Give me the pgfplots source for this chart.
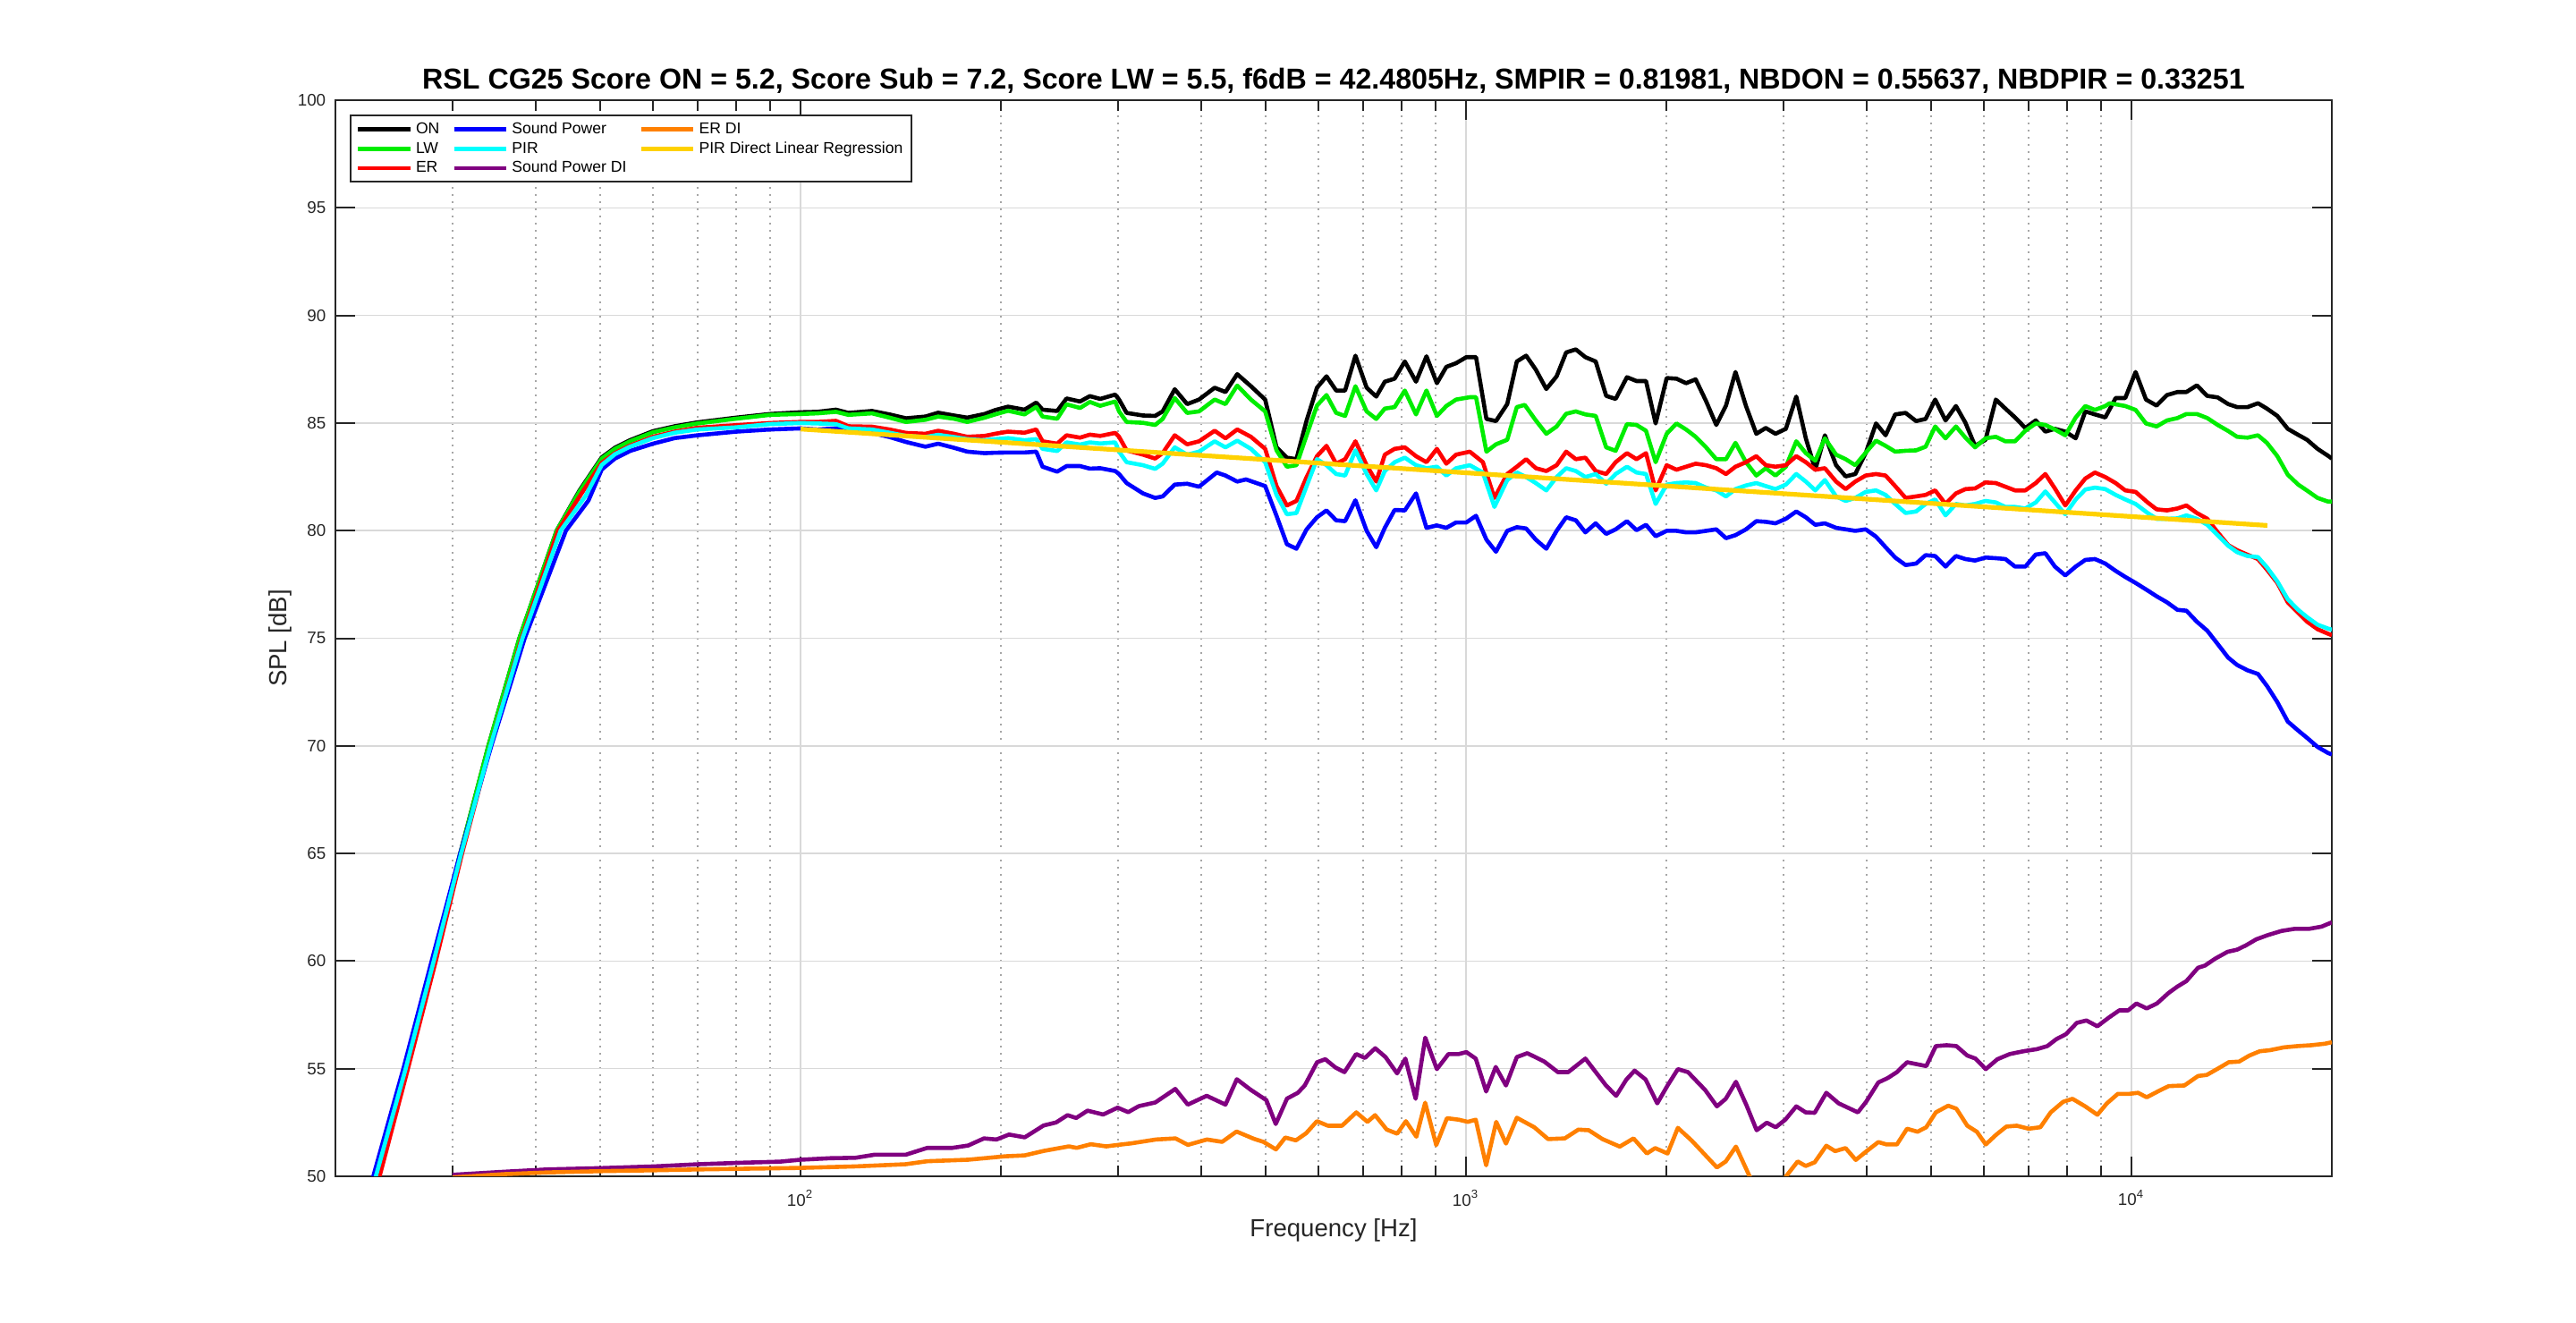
\documentclass[border=0pt]{standalone}
\usepackage{fontspec}
\setmainfont{Liberation Sans}
\usepackage{pgfplots}
\pgfplotsset{compat=1.18}

\definecolor{cON}{rgb}{0,0,0}
\definecolor{cLW}{rgb}{0,0.93,0}
\definecolor{cER}{rgb}{1,0,0}
\definecolor{cSP}{rgb}{0,0,1}
\definecolor{cPIR}{rgb}{0,1,1}
\definecolor{cSPDI}{rgb}{0.5,0,0.5}
\definecolor{cERDI}{rgb}{1,0.5,0}
\definecolor{cREG}{rgb}{1,0.82,0}
\definecolor{axgray}{rgb}{0.15,0.15,0.15}

\begin{document}
\begin{tikzpicture}
\path[use as bounding box] (-93.75pt,-40.75pt) rectangle (626.25pt,328.75pt);
\begin{axis}[
  at={(0,0)}, anchor=south west,
  scale only axis, width=558pt, height=300.75pt,
  xmode=log, xmin=20, xmax=20000, ymin=50, ymax=100,
  xtick={100,1000,10000},
  xticklabels={10\textsuperscript{2},10\textsuperscript{3},10\textsuperscript{4}},
  minor xtick={20,30,40,50,60,70,80,90,200,300,400,500,600,700,800,900,2000,3000,4000,5000,6000,7000,8000,9000},
  ytick={50,55,...,100},
  /pgf/number format/assume math mode=true,
  xtick pos=both, ytick pos=both,
  tick align=inside,
  major tick length=5.5pt, minor tick length=3pt,
  tick style={color=axgray, line width=0.5pt},
  axis line style={draw=axgray, line width=0.6pt},
  xmajorgrids, ymajorgrids, xminorgrids,
  major grid style={color=black!15, line width=0.4pt},
  minor grid style={color=black!35, line width=0.4pt, dash pattern=on 0.5pt off 1.5pt},
  ticklabel style={font=\fontsize{4.7}{5}\selectfont, color=axgray},
  yticklabel style={inner sep=0pt, xshift=-2.5pt},
  xticklabel style={inner sep=0pt, anchor=north, yshift=-3.75pt},
  every axis title shift=0pt,
  title={RSL CG25 Score ON = 5.2, Score Sub = 7.2, Score LW = 5.5, f6dB = 42.4805Hz, SMPIR = 0.81981, NBDON = 0.55637, NBDPIR = 0.33251},
  title style={at={(axis description cs:0.5,1.0108)}, anchor=base, yshift=0pt, inner sep=0pt, font=\fontsize{8.05}{9}\selectfont\bfseries},
  xlabel={Frequency [Hz]},
  xlabel style={at={(axis description cs:0.5,-0.0565)}, anchor=base, inner sep=0pt, font=\fontsize{6.9}{8}\selectfont, color=axgray},
  ylabel={SPL [dB]},
  ylabel style={at={(axis description cs:-0.0242,0.5)}, anchor=base, inner sep=0pt, font=\fontsize{6.9}{8}\selectfont, color=axgray},
  legend columns=3,
  legend cell align=left,
  legend image code/.code={\draw[#1] (0pt,0pt) -- (14.6pt,0pt);},
  legend style={at={(axis description cs:0,1)}, anchor=north west, xshift=4pt, yshift=-4pt,
    draw=axgray, line width=0.5pt, fill=white,
    font=\fontsize{4.4}{5}\selectfont,
    inner xsep=1.5pt, inner ysep=1.2pt, row sep=0pt, column sep=0pt,
    nodes={inner xsep=1pt, inner ysep=0.6pt, text height=3.3pt, text depth=0.9pt},
    /tikz/every even column/.append style={column sep=2.5pt}},
  every axis plot/.append style={line width=1.15pt, line join=round},
]
\addlegendimage{cON, line width=1.15pt}
\addlegendimage{cSP, line width=1.15pt}
\addlegendimage{cERDI, line width=1.15pt}
\addlegendimage{cLW, line width=1.15pt}
\addlegendimage{cPIR, line width=1.15pt}
\addlegendimage{cREG, line width=1.15pt}
\addlegendimage{cER, line width=1.15pt}
\addlegendimage{cSPDI, line width=1.15pt}
\legend{ON, Sound Power, ER DI, LW, PIR, PIR Direct Linear Regression, ER, Sound Power DI}

% ON
\addplot[cON, forget plot] coordinates {
(21.3,46)(23.1,50)(25.5,55)(28.1,60)(30.8,65)(33.96,70)(37.8,75)(43.0,80)(46.5,81.85)(50.25,83.4)(52.6,83.85)(55.4,84.2)(60,84.62)(64.7,84.85)(70,85.03)(80,85.25)(90,85.42)(100,85.5)(106,85.52)(113,85.62)(118,85.47)(128,85.56)(136,85.4)(144,85.22)(154,85.3)(161,85.48)(170,85.35)(178,85.25)(189,85.42)(196,85.6)(205,85.76)(217,85.62)(226,85.95)(231,85.62)(243,85.56)(251,86.14)(263,86.0)(272,86.25)(282,86.12)(297,86.32)(301,86.09)(309,85.47)(327,85.35)(341,85.33)(350,85.54)(365,86.57)(381,85.88)(397,86.09)(419,86.64)(435,86.44)(453,87.27)(475,86.71)(499,86.09)(519,83.87)(538,83.39)(556,83.32)(576,85.12)(597,86.64)(617,87.17)(638,86.51)(658,86.51)(682,88.13)(709,86.64)(733,86.23)(755,86.92)(781,87.06)(809,87.86)(841,86.92)(872,88.1)(904,86.85)(934,87.61)(966,87.78)(1001,88.06)(1035,88.06)(1073,85.19)(1109,85.09)(1153,85.88)(1192,87.86)(1231,88.13)(1273,87.48)(1320,86.58)(1368,87.17)(1414,88.28)(1462,88.42)(1511,88.06)(1566,87.86)(1624,86.26)(1678,86.12)(1745,87.13)(1804,86.95)(1864,86.95)(1927,84.98)(2002,87.09)(2071,87.06)(2141,86.85)(2213,87.03)(2294,86.02)(2377,84.91)(2458,85.81)(2540,87.37)(2634,85.79)(2730,84.5)(2821,84.77)(2917,84.5)(3024,84.73)(3135,86.23)(3240,84.29)(3348,82.83)(3461,84.43)(3598,83.04)(3719,82.52)(3845,82.63)(3986,83.6)(4131,84.98)(4270,84.43)(4414,85.4)(4576,85.47)(4745,85.09)(4904,85.19)(5069,86.09)(5254,85.12)(5447,85.79)(5629,85.01)(5819,83.94)(6033,84.22)(6253,86.09)(6464,85.67)(6682,85.26)(6925,84.77)(7179,85.12)(7422,84.6)(7672,84.73)(7952,84.6)(8244,84.29)(8522,85.54)(8810,85.4)(9131,85.26)(9465,86.16)(9784,86.16)(10141,87.37)(10513,86.09)(10905,85.81)(11305,86.3)(11722,86.44)(12090,86.44)(12535,86.75)(12996,86.26)(13474,86.19)(13970,85.88)(14408,85.74)(14939,85.74)(15488,85.92)(15974,85.67)(16562,85.33)(17170,84.73)(17802,84.45)(18359,84.22)(19035,83.8)(19735,83.48)(20000,83.35)
};
% LW
\addplot[cLW, forget plot] coordinates {
(21.3,46)(23.1,50)(25.5,55)(28.1,60)(30.8,65)(33.96,70)(37.8,75)(43.0,80)(46.5,81.8)(50.25,83.35)(52.6,83.8)(55.4,84.15)(60,84.57)(64.7,84.8)(70,84.98)(80,85.2)(90,85.38)(100,85.42)(106,85.45)(113,85.52)(118,85.38)(128,85.45)(136,85.25)(144,85.05)(154,85.15)(161,85.3)(170,85.2)(178,85.05)(189,85.25)(196,85.4)(205,85.57)(217,85.4)(226,85.75)(231,85.3)(243,85.2)(251,85.87)(263,85.7)(272,85.98)(282,85.8)(297,86.0)(301,85.54)(309,85.05)(327,85.01)(341,84.91)(350,85.19)(365,86.16)(381,85.47)(397,85.54)(419,86.09)(435,85.88)(453,86.74)(475,86.09)(499,85.54)(519,83.73)(538,82.97)(556,83.04)(576,84.43)(597,85.81)(617,86.3)(638,85.47)(658,85.33)(682,86.71)(709,85.54)(733,85.19)(755,85.67)(781,85.74)(809,86.51)(841,85.4)(872,86.51)(904,85.33)(934,85.79)(966,86.09)(1013,86.2)(1035,86.2)(1073,83.67)(1109,84.01)(1153,84.22)(1192,85.74)(1225,85.84)(1273,85.12)(1320,84.5)(1368,84.84)(1414,85.43)(1462,85.54)(1511,85.4)(1566,85.33)(1624,83.87)(1678,83.71)(1745,84.95)(1804,84.91)(1864,84.64)(1927,83.18)(2002,84.5)(2071,84.98)(2141,84.7)(2213,84.36)(2294,83.87)(2377,83.32)(2458,83.32)(2540,84.08)(2634,83.18)(2730,82.56)(2821,82.9)(2917,82.56)(3024,82.97)(3135,84.15)(3240,83.6)(3348,83.25)(3461,84.29)(3598,83.53)(3719,83.32)(3845,83.04)(3986,83.62)(4131,84.18)(4270,83.94)(4414,83.67)(4576,83.71)(4745,83.73)(4904,83.9)(5069,84.84)(5254,84.29)(5447,84.84)(5629,84.32)(5819,83.87)(6033,84.29)(6253,84.36)(6464,84.15)(6682,84.15)(6925,84.64)(7179,84.98)(7422,84.91)(7672,84.7)(7952,84.43)(8244,85.26)(8522,85.79)(8810,85.61)(9131,85.79)(9270,85.92)(9784,85.79)(10141,85.61)(10513,84.98)(10905,84.84)(11305,85.12)(11722,85.23)(12090,85.42)(12535,85.42)(12996,85.23)(13474,84.91)(13970,84.63)(14408,84.36)(14939,84.32)(15488,84.43)(15974,84.08)(16562,83.46)(17170,82.6)(17802,82.14)(18359,81.86)(19035,81.52)(19735,81.35)(20000,81.35)
};
% ER
\addplot[cER, forget plot] coordinates {
(21.4,46)(23.3,50)(25.7,55)(28.3,60)(31.0,65)(34.2,70)(38.1,75)(43.2,80)(46.8,81.7)(50.25,83.15)(52.6,83.6)(55.4,83.95)(60,84.36)(64.7,84.6)(70,84.78)(80,84.9)(90,85.0)(100,85.05)(106,85.05)(113,85.1)(118,84.85)(128,84.83)(136,84.7)(144,84.54)(154,84.5)(161,84.64)(170,84.5)(178,84.36)(189,84.4)(196,84.5)(205,84.6)(217,84.55)(226,84.7)(231,84.15)(243,84.04)(251,84.43)(263,84.32)(272,84.46)(282,84.4)(297,84.54)(301,84.36)(309,83.73)(327,83.53)(341,83.35)(350,83.6)(365,84.43)(381,84.01)(397,84.15)(419,84.64)(435,84.29)(453,84.7)(475,84.36)(499,83.8)(519,82.07)(538,81.17)(556,81.38)(576,82.49)(597,83.46)(617,83.94)(638,83.11)(658,83.32)(682,84.15)(709,83.04)(733,82.28)(755,83.53)(781,83.8)(809,83.87)(841,83.46)(872,83.18)(904,83.8)(934,83.11)(966,83.53)(1013,83.67)(1060,83.18)(1103,81.52)(1153,82.63)(1192,82.97)(1231,83.32)(1273,82.9)(1320,82.77)(1368,83.04)(1414,83.67)(1462,83.32)(1511,83.39)(1566,82.77)(1624,82.63)(1678,83.18)(1745,83.6)(1804,83.32)(1864,83.6)(1927,81.87)(2002,83.04)(2071,82.83)(2141,82.97)(2213,83.11)(2294,83.04)(2377,82.9)(2458,82.63)(2540,82.97)(2634,83.18)(2730,83.46)(2821,83.04)(2917,82.97)(3024,83.04)(3135,83.46)(3240,83.18)(3348,82.83)(3461,82.9)(3598,82.28)(3719,81.93)(3845,82.28)(3986,82.56)(4131,82.63)(4270,82.56)(4414,82.07)(4576,81.52)(4745,81.59)(4904,81.66)(5069,81.87)(5254,81.24)(5447,81.73)(5629,81.93)(5819,81.96)(6033,82.24)(6253,82.21)(6464,82.04)(6682,81.87)(6925,81.87)(7179,82.21)(7422,82.63)(7672,81.96)(7952,81.17)(8244,81.87)(8522,82.42)(8810,82.7)(9131,82.49)(9465,82.21)(9784,81.87)(10141,81.8)(10573,81.31)(10905,80.99)(11305,80.94)(11722,81.03)(12090,81.17)(12535,80.82)(12996,80.55)(13474,79.92)(13970,79.33)(14408,79.09)(14939,78.88)(15488,78.68)(15974,78.19)(16562,77.57)(17170,76.67)(17802,76.18)(18359,75.77)(19035,75.42)(19735,75.21)(20000,75.14)
};
% Sound Power
\addplot[cSP, forget plot] coordinates {
(21.0,46)(22.8,50)(25.3,55)(27.9,60)(30.8,65)(34.3,70)(38.5,75)(44.4,80)(48,81.4)(50.25,82.84)(52.6,83.35)(55.4,83.7)(60,84.04)(64.7,84.3)(70,84.43)(80,84.6)(90,84.7)(100,84.75)(106,84.7)(113,84.75)(118,84.6)(128,84.54)(136,84.35)(144,84.12)(154,83.9)(161,84.04)(170,83.85)(178,83.67)(189,83.6)(196,83.62)(205,83.63)(217,83.63)(226,83.67)(231,82.97)(243,82.74)(251,83.0)(263,83.0)(272,82.88)(282,82.9)(297,82.77)(301,82.63)(309,82.21)(327,81.73)(341,81.52)(350,81.59)(365,82.14)(381,82.18)(397,82.04)(422,82.7)(435,82.56)(453,82.28)(467,82.38)(499,82.07)(519,80.69)(538,79.37)(556,79.16)(576,80.06)(597,80.62)(617,80.94)(638,80.48)(658,80.44)(682,81.41)(709,79.99)(733,79.23)(755,80.13)(781,80.96)(809,80.94)(841,81.73)(872,80.13)(904,80.24)(934,80.13)(966,80.38)(1001,80.38)(1035,80.69)(1073,79.58)(1109,79.02)(1153,79.99)(1192,80.16)(1231,80.1)(1273,79.58)(1320,79.16)(1368,79.99)(1414,80.62)(1462,80.48)(1511,79.92)(1566,80.34)(1624,79.85)(1678,80.06)(1745,80.44)(1804,80.02)(1864,80.27)(1927,79.74)(2002,79.99)(2071,79.99)(2141,79.92)(2213,79.92)(2294,79.99)(2377,80.06)(2458,79.65)(2540,79.79)(2634,80.06)(2730,80.44)(2821,80.41)(2917,80.34)(3024,80.55)(3135,80.89)(3240,80.62)(3348,80.27)(3461,80.34)(3598,80.13)(3719,80.06)(3845,79.99)(3986,80.06)(4131,79.72)(4270,79.23)(4414,78.75)(4576,78.4)(4745,78.47)(4904,78.86)(5069,78.82)(5254,78.33)(5447,78.82)(5629,78.68)(5819,78.61)(6033,78.75)(6253,78.72)(6464,78.68)(6682,78.33)(6925,78.33)(7179,78.89)(7422,78.95)(7672,78.33)(7952,77.92)(8244,78.33)(8522,78.64)(8810,78.68)(9131,78.47)(9465,78.13)(9784,77.85)(10141,77.57)(10573,77.22)(10905,76.95)(11305,76.67)(11722,76.32)(12090,76.28)(12535,75.77)(12996,75.35)(13474,74.73)(13970,74.1)(14408,73.76)(14939,73.51)(15488,73.34)(15974,72.79)(16562,72.03)(17170,71.13)(17802,70.71)(18359,70.37)(19035,69.95)(19735,69.67)(20000,69.6)
};
% PIR
\addplot[cPIR, forget plot] coordinates {
(21.2,46)(23.0,50)(25.5,55)(28.1,60)(30.9,65)(34.2,70)(38.2,75)(43.6,80)(47.5,81.6)(50.25,83.05)(52.6,83.55)(55.4,83.9)(60,84.3)(64.7,84.55)(70,84.7)(80,84.8)(90,84.95)(100,85.0)(106,84.98)(113,84.95)(118,84.75)(128,84.7)(136,84.55)(144,84.4)(154,84.35)(161,84.45)(170,84.35)(178,84.25)(189,84.2)(196,84.25)(205,84.3)(217,84.2)(226,84.25)(231,83.8)(243,83.7)(251,84.1)(263,84.0)(272,84.1)(282,84.05)(297,84.1)(301,83.67)(309,83.18)(327,83.04)(341,82.87)(350,83.11)(365,83.87)(381,83.53)(397,83.67)(419,84.15)(435,83.87)(453,84.18)(475,83.8)(499,83.18)(519,81.66)(538,80.76)(556,80.82)(576,82.07)(597,83.32)(617,83.04)(638,82.63)(658,82.56)(682,83.73)(709,82.63)(733,81.87)(755,82.77)(781,83.18)(809,83.39)(841,83.04)(872,82.9)(904,82.97)(934,82.56)(966,82.9)(1013,83.04)(1060,82.7)(1103,81.1)(1153,82.35)(1192,82.7)(1231,82.49)(1273,82.21)(1320,81.87)(1368,82.49)(1414,82.9)(1462,82.77)(1511,82.49)(1566,82.63)(1624,82.18)(1678,82.63)(1745,82.97)(1804,82.7)(1864,82.63)(1927,81.24)(2002,82.14)(2071,82.21)(2141,82.24)(2213,82.21)(2294,82.0)(2377,81.87)(2458,81.59)(2540,81.93)(2634,82.1)(2730,82.21)(2821,82.07)(2917,81.93)(3024,82.14)(3135,82.63)(3240,82.28)(3348,81.87)(3461,82.35)(3598,81.59)(3719,81.38)(3845,81.52)(3986,81.8)(4131,81.87)(4270,81.66)(4414,81.24)(4576,80.82)(4745,80.89)(4904,81.24)(5069,81.45)(5254,80.71)(5447,81.24)(5629,81.17)(5819,81.24)(6033,81.38)(6253,81.31)(6464,81.1)(6682,81.1)(6925,81.03)(7179,81.31)(7422,81.82)(7672,81.31)(7952,80.76)(8244,81.45)(8522,81.91)(8810,82.0)(9131,81.93)(9465,81.66)(9784,81.45)(10141,81.24)(10573,80.82)(10905,80.55)(11305,80.55)(11722,80.57)(12090,80.71)(12535,80.55)(12996,80.27)(13474,79.79)(13970,79.3)(14408,79.0)(14939,78.82)(15488,78.77)(15974,78.3)(16562,77.64)(17170,76.81)(17802,76.32)(18359,75.98)(19035,75.63)(19735,75.45)(20000,75.4)
};
% Sound Power DI
\addplot[cSPDI, forget plot] coordinates {
(30,50.07)(35.8,50.21)(41.7,50.32)(50.2,50.38)(60.3,50.46)(70.2,50.56)(81.7,50.63)(93.1,50.68)(100,50.77)(110.8,50.84)(120.9,50.86)(129,51.0)(143.8,51.0)(155,51.32)(169,51.32)(178.6,51.43)(188.6,51.76)(197,51.71)(205.7,51.94)(217.2,51.81)(231.8,52.36)(242,52.5)(251.8,52.84)(259.5,52.71)(269.9,53.05)(284.9,52.87)(299.5,53.19)(310.7,52.98)(322.3,53.26)(341.2,53.43)(365.7,54.06)(381.9,53.33)(407.6,53.74)(435,53.33)(452.4,54.51)(474.6,54.02)(501,53.54)(517.6,52.43)(538.2,53.61)(558.8,53.88)(572.3,54.22)(597.2,55.3)(614.4,55.44)(636.7,55.05)(656.6,54.84)(683.6,55.68)(704.9,55.5)(730.4,55.95)(756.8,55.54)(787.8,54.78)(810.6,55.47)(840,53.6)(868.3,56.44)(903.9,54.98)(941,55.68)(975,55.68)(1001,55.77)(1034,55.47)(1072,53.94)(1108,55.08)(1148,54.22)(1192,55.54)(1236,55.72)(1311,55.33)(1374,54.84)(1424,54.84)(1511,55.47)(1623,54.22)(1681,53.74)(1742,54.5)(1792,54.91)(1861,54.5)(1938,53.39)(2008,54.22)(2081,54.98)(2155,54.84)(2287,54.01)(2382,53.25)(2456,53.6)(2544,54.39)(2637,53.32)(2733,52.14)(2831,52.49)(2920,52.28)(3018,52.63)(3135,53.25)(3239,52.97)(3341,52.95)(3478,53.88)(3630,53.39)(3880,52.97)(3992,53.46)(4164,54.36)(4305,54.57)(4440,54.84)(4599,55.3)(4915,55.12)(5081,56.05)(5277,56.09)(5455,56.05)(5665,55.61)(5828,55.47)(6039,54.98)(6287,55.44)(6561,55.68)(6880,55.81)(7213,55.91)(7473,56.05)(7708,56.37)(7968,56.6)(8276,57.13)(8555,57.24)(8885,56.97)(9250,57.38)(9585,57.71)(9885,57.71)(10170,58.03)(10538,57.8)(10919,58.03)(11369,58.52)(11725,58.82)(12090,59.07)(12587,59.69)(12889,59.79)(13354,60.11)(13938,60.43)(14407,60.53)(14857,60.73)(15394,61.01)(16000,61.2)(16800,61.4)(17600,61.5)(18500,61.5)(19300,61.6)(20000,61.8)
};
% ER DI
\addplot[cERDI, forget plot] coordinates {
(30,49.95)(35.8,50.1)(41.7,50.18)(50.2,50.24)(60.3,50.28)(70.2,50.32)(81.7,50.35)(100,50.39)(120.9,50.46)(143.8,50.56)(155,50.7)(178.6,50.77)(203,50.93)(217,50.97)(232,51.18)(253,51.39)(260,51.32)(273,51.49)(288,51.39)(300,51.46)(314,51.53)(342,51.71)(366,51.76)(382,51.46)(408,51.71)(430,51.6)(452,52.08)(480,51.74)(496,51.6)(518,51.25)(535,51.8)(555,51.67)(575,52.0)(597,52.56)(620,52.35)(651,52.35)(684,52.97)(711,52.53)(730,52.84)(760,52.17)(788,51.98)(812,52.56)(842,51.84)(868,53.42)(902,51.45)(936,52.7)(975,52.63)(1006,52.53)(1034,52.63)(1072,50.51)(1110,52.53)(1148,51.52)(1192,52.72)(1266,52.28)(1328,51.73)(1407,51.76)(1475,52.17)(1529,52.14)(1603,51.73)(1702,51.38)(1785,51.76)(1870,51.06)(1924,51.31)(2008,51.06)(2081,52.25)(2183,51.66)(2302,50.9)(2382,50.41)(2456,50.69)(2544,51.38)(2667,50.0)(2800,48.8)(2900,48.9)(3026,50.0)(3150,50.69)(3239,50.48)(3341,50.65)(3478,51.42)(3586,51.17)(3718,51.31)(3852,50.76)(3992,51.15)(4164,51.59)(4283,51.48)(4440,51.48)(4599,52.21)(4769,52.07)(4915,52.28)(5081,52.97)(5302,53.28)(5455,53.14)(5665,52.35)(5855,52.07)(6039,51.48)(6260,51.93)(6485,52.31)(6722,52.35)(7007,52.21)(7295,52.28)(7560,52.97)(7893,53.46)(8152,53.6)(8518,53.25)(8885,52.86)(9184,53.39)(9537,53.83)(9920,53.83)(10229,53.88)(10538,53.67)(10997,53.97)(11369,54.19)(12007,54.22)(12587,54.66)(12975,54.71)(13511,55.02)(14000,55.3)(14508,55.33)(15033,55.61)(15583,55.81)(16148,55.86)(16934,55.99)(17759,56.05)(18623,56.09)(19530,56.16)(20000,56.23)
};
% PIR Direct Linear Regression
\addplot[cREG, line width=1.3pt, forget plot] coordinates {(100,84.72)(16000,80.24)};
\end{axis}
\end{tikzpicture}
\end{document}
